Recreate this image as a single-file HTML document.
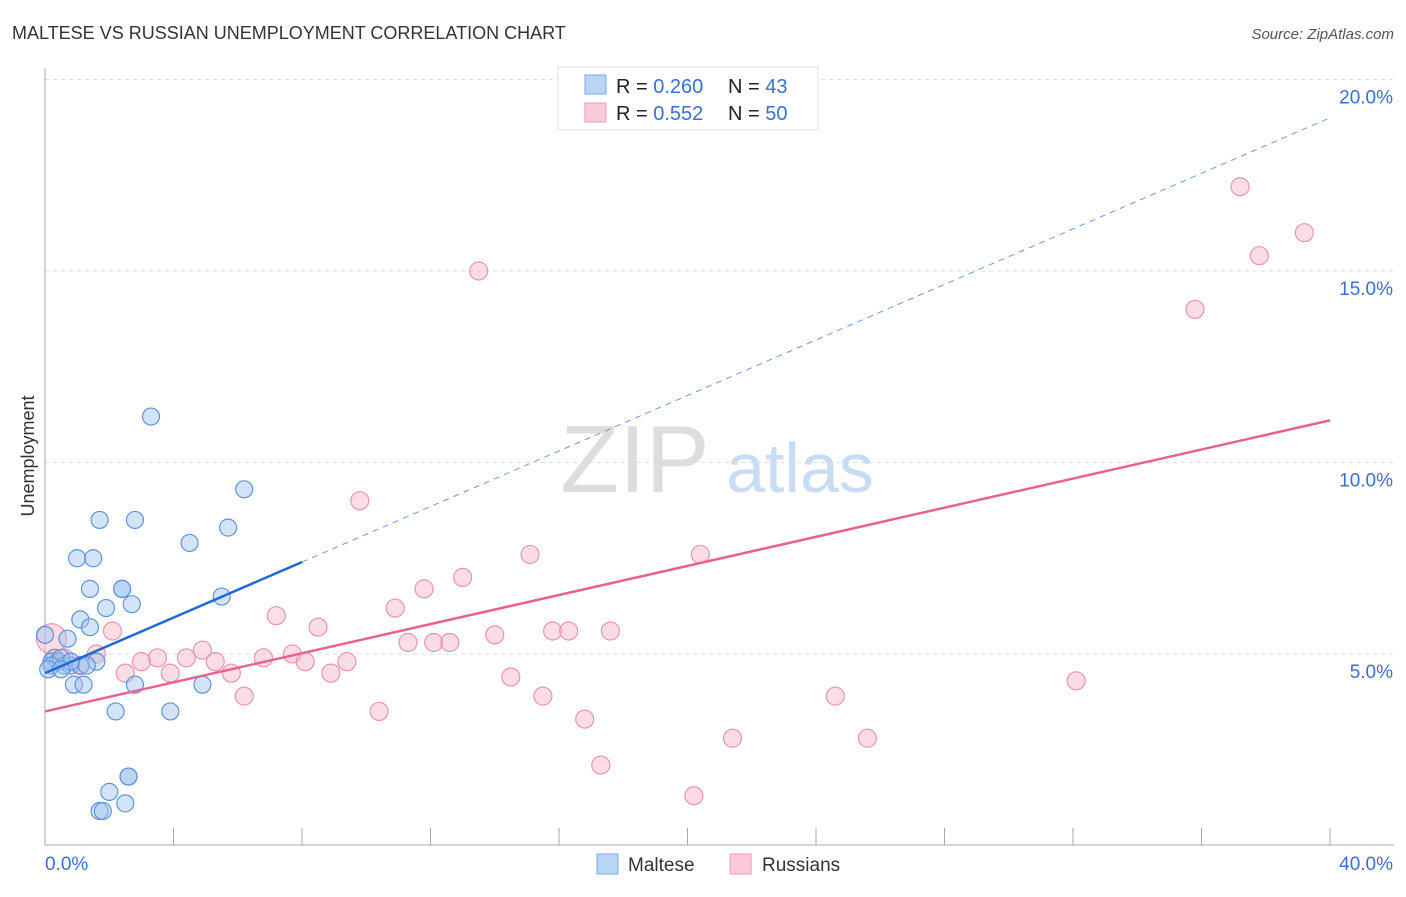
<!DOCTYPE html>
<html><head><meta charset="utf-8"><style>
body{margin:0;background:#fff;font-family:"Liberation Sans",sans-serif;}
svg text{font-family:"Liberation Sans",sans-serif;}
</style></head><body>
<svg id="c" width="1406" height="892" xmlns="http://www.w3.org/2000/svg">
<text x="12" y="39" font-size="18" fill="#333">MALTESE VS RUSSIAN UNEMPLOYMENT CORRELATION CHART</text>
<text x="1394" y="39" font-size="15" fill="#555" font-style="italic" text-anchor="end">Source: ZipAtlas.com</text>
<text x="635" y="492" font-size="96" fill="#ddd" font-family="Liberation Serif" text-anchor="middle">ZIP</text>
<text x="800" y="492" font-size="70" fill="#c8dcf3" text-anchor="middle">atlas</text>
<text transform="translate(34,456) rotate(-90)" font-size="18" fill="#333" text-anchor="middle">Unemployment</text>
<g id="grid"></g><g id="pts"></g><g id="lines"></g>
<g>
<rect x="558" y="67" width="260" height="63" fill="#fff" stroke="#ddd"/>
<rect x="585" y="75" width="21" height="19" fill="#b8d4f6" stroke="#7fa9e6"/>
<rect x="585" y="103" width="21" height="19" fill="#fbcad8" stroke="#ee9ab3"/>
<text x="616" y="93" font-size="20" fill="#222">R = <tspan fill="#3a6fd0">0.260</tspan><tspan x="728">N = </tspan><tspan fill="#3a6fd0">43</tspan></text>
<text x="616" y="120" font-size="20" fill="#222">R = <tspan fill="#3a6fd0">0.552</tspan><tspan x="728">N = </tspan><tspan fill="#3a6fd0">50</tspan></text>
</g>
<g>
<rect x="597" y="854" width="21" height="20" fill="#b8d4f6" stroke="#7fa9e6"/>
<text x="628" y="871" font-size="19" fill="#333">Maltese</text>
<rect x="730" y="854" width="21" height="20" fill="#fbcad8" stroke="#ee9ab3"/>
<text x="762" y="871" font-size="19" fill="#333">Russians</text>
</g>
</svg>
<script>
const xTickLabels=["0.0%","40.0%"];
const yTicks=[5,10,15,20];
const malteseX=[3.3,6.2,1.7,2.8,5.7,4.5,1.0,1.5,1.4,2.4,2.4,1.9,2.7,5.5,1.1,1.4,0.7,0.3,0.2,0.4,0.6,0.8,1.1,1.6,1.3,0.5,0.9,1.2,2.8,4.9,2.2,3.9,2.6,2.6,2.0,2.5,1.7,1.8,0.2,0.1,0.0,0.8,0.5];
const malteseY=[11.2,9.3,8.5,8.5,8.3,7.9,7.5,7.5,6.7,6.7,6.7,6.2,6.3,6.5,5.9,5.7,5.4,4.9,4.8,4.8,4.7,4.7,4.7,4.8,4.7,4.9,4.2,4.2,4.2,4.2,3.5,3.5,1.8,1.8,1.4,1.1,0.9,0.9,4.7,4.6,5.5,4.8,4.6];
const russianX=[37.2,39.2,37.8,13.5,35.8,9.8,15.1,20.4,13.0,11.8,10.9,7.2,8.5,2.1,15.8,16.3,17.6,14.0,11.3,12.1,12.6,4.9,4.4,7.7,3.5,3.0,6.8,8.1,9.4,1.6,5.3,3.9,2.5,5.8,8.9,14.5,32.1,15.5,24.6,6.2,10.4,16.8,21.4,25.6,17.3,20.2,0.2,1.1,0.6];
const russianY=[17.2,16.0,15.4,15.0,14.0,9.0,7.6,7.6,7.0,6.7,6.2,6.0,5.7,5.6,5.6,5.6,5.6,5.5,5.3,5.3,5.3,5.1,4.9,5.0,4.9,4.8,4.9,4.8,4.8,5.0,4.8,4.5,4.5,4.5,4.5,4.4,4.3,3.9,3.9,3.9,3.5,3.3,2.8,2.8,2.1,1.3,5.4,4.7,4.9];
const blueTrend=[4.5,19.0], blueSolidEnd=8.0, pinkTrend=[3.5,11.1];
const X=v=>45+v*32.125, Y=v=>845.5-v*38.3;
const NS="http://www.w3.org/2000/svg";
function mk(t,a,p){const e=document.createElementNS(NS,t);for(const k in a)e.setAttribute(k,a[k]);p.appendChild(e);return e;}
const g=document.getElementById('grid');
yTicks.forEach(t=>{
 const l=mk('line',{x1:45,x2:1394,y1:Y(t),y2:Y(t),stroke:'#ddd','stroke-dasharray':'4,4'},g);
 
 
 const tx=mk('text',{x:1393,y:Y(t)+24,'font-size':19,fill:'#3a6fd0','text-anchor':'end'},g);
 tx.textContent=t.toFixed(1)+'%';
 
 
});
mk('line',{x1:45,x2:45,y1:68,y2:845,stroke:'#aaa'},g);
mk('line',{x1:45,x2:1394,y1:845,y2:845,stroke:'#aaa'},g);
for(let i=1;i<=10;i++){mk('line',{x1:X(i*4),x2:X(i*4),y1:828,y2:845,stroke:'#aaa'},g);}
const xl0=mk('text',{x:45,y:870,'font-size':19,fill:'#3a6fd0'},g);xl0.textContent=xTickLabels[0];


const xl1=mk('text',{x:1393,y:870,'font-size':19,fill:'#3a6fd0','text-anchor':'end'},g);xl1.textContent=xTickLabels[1];


const p=document.getElementById('pts');
russianX.forEach((x,i)=>{
 const c=mk('circle',{cx:X(x),cy:Y(russianY[i]),r:i==46?15:9,fill:'rgba(248,180,200,0.45)',stroke:'#eb93b0','stroke-width':1.2},p);
 
 
});
malteseX.forEach((x,i)=>{
 const c=mk('circle',{cx:X(x),cy:Y(malteseY[i]),r:8.5,fill:'rgba(160,196,240,0.45)',stroke:'#5f93dc','stroke-width':1.2},p);
 
 
});
const L=document.getElementById('lines');
const by=x=>blueTrend[0]+(blueTrend[1]-blueTrend[0])*x/40;
const py=x=>pinkTrend[0]+(pinkTrend[1]-pinkTrend[0])*x/40;
const bd=mk('line',{x1:X(blueSolidEnd),y1:Y(by(blueSolidEnd)),x2:X(40),y2:Y(by(40)),stroke:'#6b9be0','stroke-width':1,'stroke-dasharray':'6,5'},L);


const bs=mk('line',{x1:X(0),y1:Y(by(0)),x2:X(blueSolidEnd),y2:Y(by(blueSolidEnd)),stroke:'#1f6bd6','stroke-width':2.5},L);


const pl=mk('line',{x1:X(0),y1:Y(py(0)),x2:X(40),y2:Y(py(40)),stroke:'#e8628f','stroke-width':2.5},L);


</script>
</body></html>
